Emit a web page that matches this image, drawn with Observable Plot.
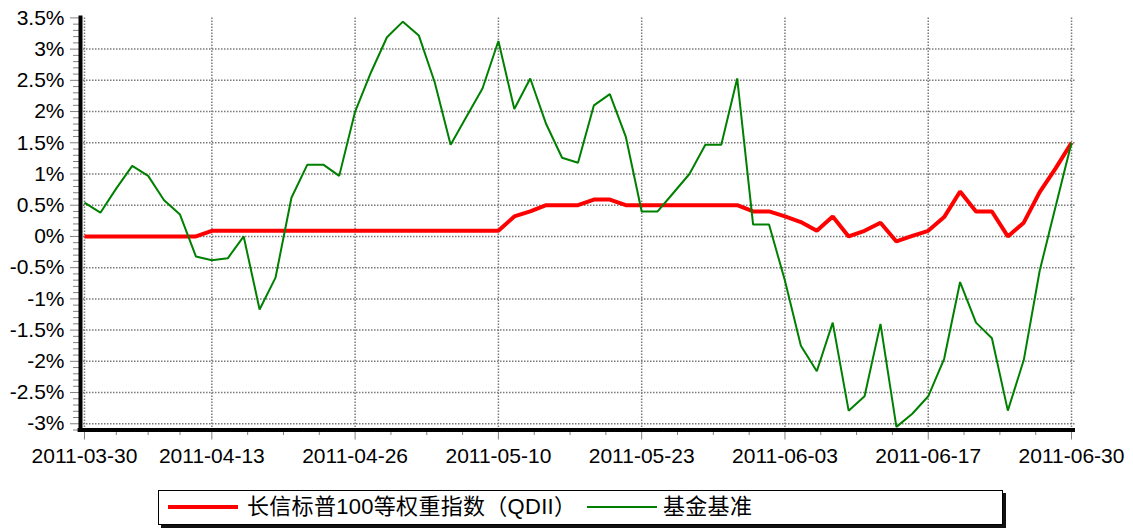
<!DOCTYPE html>
<html>
<head>
<meta charset="utf-8">
<script src="https://cdn.jsdelivr.net/npm/d3@7"></script>
<script src="https://cdn.jsdelivr.net/npm/@observablehq/plot@0.6"></script>
<style>
  body { margin: 0; background: #fff; width: 1133px; height: 528px; position: relative; overflow: hidden;
         font-family: "Liberation Sans", Arial, "Noto Sans CJK SC", sans-serif; }
  #chart { position: absolute; left: 0; top: 0; }
  #legend { position: absolute; left: 158px; top: 490px; width: 845px; height: 35px; box-sizing: border-box;
            border: 1.5px solid #000; box-shadow: 3px 3px 0 #111; background: #fff; }
  #legend .sw { position: absolute; }
  #legend .tx { position: absolute; top: 0; height: 32px; line-height: 32px; font-size: 22px; letter-spacing: 0.3px; color: #000;
                white-space: nowrap; font-family: "Liberation Sans", "Noto Sans CJK SC", sans-serif; }
</style>
</head>
<body>
<div id="chart"></div>
<div id="legend"></div>
<script>
// ---- data ----
const dates = [
  "2011-03-30","2011-03-31","2011-04-01","2011-04-06","2011-04-07","2011-04-08","2011-04-11","2011-04-12",
  "2011-04-13","2011-04-14","2011-04-15","2011-04-18","2011-04-19","2011-04-20","2011-04-21","2011-04-22",
  "2011-04-25","2011-04-26","2011-04-27","2011-04-28","2011-04-29","2011-05-03","2011-05-04","2011-05-05",
  "2011-05-06","2011-05-09","2011-05-10","2011-05-11","2011-05-12","2011-05-13","2011-05-16","2011-05-17",
  "2011-05-18","2011-05-19","2011-05-20","2011-05-23","2011-05-24","2011-05-25","2011-05-26","2011-05-27",
  "2011-05-30","2011-05-31","2011-06-01","2011-06-02","2011-06-03","2011-06-07","2011-06-08","2011-06-09",
  "2011-06-10","2011-06-13","2011-06-14","2011-06-15","2011-06-16","2011-06-17","2011-06-20","2011-06-21",
  "2011-06-22","2011-06-23","2011-06-24","2011-06-27","2011-06-28","2011-06-29","2011-06-30"
];
const fundName = "长信标普100等权重指数（QDII）";
const benchName = "基金基准";
const fundValues = [
  0, 0, 0, 0, 0, 0, 0, 0,
  0.09, 0.09, 0.09, 0.09, 0.09, 0.09, 0.09, 0.09,
  0.09, 0.09, 0.09, 0.09, 0.09, 0.09, 0.09, 0.09,
  0.09, 0.09, 0.09, 0.32, 0.40, 0.50, 0.50, 0.50,
  0.59, 0.59, 0.50, 0.50, 0.50, 0.50, 0.50, 0.50,
  0.50, 0.50, 0.40, 0.40, 0.32, 0.23, 0.09, 0.32,
  0.00, 0.09, 0.22, -0.08, 0.01, 0.09, 0.31, 0.72,
  0.40, 0.40, 0.00, 0.22, 0.71, 1.09, 1.50
];
const benchValues = [
  0.54, 0.38, 0.77, 1.13, 0.97, 0.58, 0.35, -0.32,
  -0.38, -0.35, 0.00, -1.17, -0.66, 0.62, 1.15, 1.15,
  0.97, 2.00, 2.63, 3.19, 3.44, 3.22, 2.47, 1.47,
  1.92, 2.37, 3.13, 2.04, 2.53, 1.80, 1.26, 1.18,
  2.10, 2.28, 1.60, 0.40, 0.40, 0.70, 1.00, 1.47,
  1.47, 2.53, 0.19, 0.19, -0.71, -1.75, -2.16, -1.38,
  -2.79, -2.56, -1.40, -3.05, -2.84, -2.56, -1.96, -0.73,
  -1.38, -1.63, -2.79, -1.98, -0.55, 0.48, 1.50
];
const xTickDates = ["2011-03-30","2011-04-13","2011-04-26","2011-05-10","2011-05-23","2011-06-03","2011-06-17","2011-06-30"];
const yTicks = [-3, -2.5, -2, -1.5, -1, -0.5, 0, 0.5, 1, 1.5, 2, 2.5, 3, 3.5];
const yGridTicks = [-3, -2.5, -2, -1.5, -1, -0.5, 0, 0.5, 1, 1.5, 2, 2.5, 3];

// ---- derived tables ----
const fundRows = fundValues.map((v, i) => ({i, date: dates[i], v}));
const benchRows = benchValues.map((v, i) => ({i, date: dates[i], v}));
const xMajor = xTickDates.map(d => dates.indexOf(d));
const xMinor = [];
for (let k = 0; k < xMajor.length - 1; k++) {
  const a = xMajor[k], b = xMajor[k + 1];
  for (let q = 1; q < 4; q++) xMinor.push(a + (b - a) * q / 4);
}
const yMinor = d3.range(-31, 36).map(k => k / 10).filter(v => !yTicks.some(t => Math.abs(t - v) < 1e-9));

const xDomain = [-0.25, dates.length - 1 + 0.25];
const yDomain = [-3.1, 3.5];
const gridStyle = {stroke: "#7a7a7a", strokeOpacity: 1, strokeWidth: 1.5, strokeDasharray: "1.5,1.5"};

const chart = Plot.plot({
  width: 1133,
  height: 480,
  marginTop: 17.4,
  marginBottom: 50.5,
  marginLeft: 80,
  marginRight: 58,
  x: {type: "linear", domain: xDomain},
  y: {type: "linear", domain: yDomain},
  style: {fontFamily: '"Liberation Sans", Arial, sans-serif', fontSize: "21px", color: "#000", background: "#fff"},
  marks: [
    Plot.gridY(yGridTicks, gridStyle),
    Plot.gridX(xMajor, gridStyle),
    Plot.axisY(yMinor, {tickSize: 7, tickFormat: () => "", stroke: "#808080", strokeOpacity: 1, label: null}),
    Plot.axisY(yTicks, {tickSize: 10, tickPadding: 6, tickFormat: d => `${d}%`, stroke: "#808080", strokeOpacity: 1,
                        fill: "#000", fontSize: 21, label: null}),
    Plot.axisX(xMinor, {tickSize: 5.5, tickFormat: () => "", stroke: "#808080", strokeOpacity: 1, label: null}),
    Plot.axisX(xMajor, {tickSize: 10, tickPadding: 8.5, tickFormat: i => dates[i], stroke: "#808080", strokeOpacity: 1,
                        fill: "#000", fontSize: 21, label: null}),
    Plot.line(fundRows, {x: "i", y: "v", stroke: "#ff0000", strokeWidth: 4, strokeLinejoin: "miter", strokeLinecap: "butt"}),
    Plot.line(benchRows, {x: "i", y: "v", stroke: "#008000", strokeWidth: 2, strokeLinejoin: "miter", strokeLinecap: "butt"}),
    Plot.ruleX([xDomain[0]], {y1: -3.13, y2: 3.53, stroke: "#000", strokeWidth: 4}),
    Plot.ruleY([yDomain[0]], {x1: xDomain[0] - 0.15, x2: xDomain[1], stroke: "#000", strokeWidth: 4})
  ]
});
document.getElementById("chart").appendChild(chart);

// ---- legend ----
const legend = document.getElementById("legend");
const items = [
  {name: fundName, color: "#ff0000", w: 3.5, swLeft: 9, txLeft: 88},
  {name: benchName, color: "#008000", w: 2, swLeft: 428, txLeft: 504}
];
for (const it of items) {
  const sw = document.createElement("div");
  sw.className = "sw";
  sw.style.left = it.swLeft + "px";
  sw.style.width = "70px";
  sw.style.top = (16 - it.w / 2) + "px";
  sw.style.height = it.w + "px";
  sw.style.background = it.color;
  legend.appendChild(sw);
  const tx = document.createElement("div");
  tx.className = "tx";
  tx.style.left = it.txLeft + "px";
  tx.textContent = it.name;
  legend.appendChild(tx);
}
</script>
</body>
</html>
